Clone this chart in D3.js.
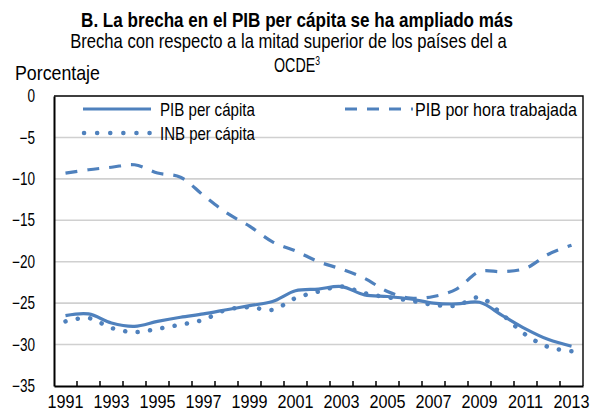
<!DOCTYPE html>
<html><head><meta charset="utf-8">
<script src="https://cdn.jsdelivr.net/npm/d3@7"></script>
<style>
body{margin:0;background:#fff}
svg{display:block}
text{font-family:"Liberation Sans",Arial,sans-serif;fill:#000}
</style>
</head><body><svg id="c" width="598" height="414"></svg>
<script>
const years = d3.range(1991, 2014).map(String);
const pibPerCapita = [-26.5, -26.3, -27.4, -27.8, -27.2, -26.7, -26.3, -25.8, -25.3, -24.8, -23.5, -23.3, -23.0, -24.0, -24.2, -24.5, -25.0, -25.1, -24.9, -26.5, -28.1, -29.4, -30.2];
const inbPerCapita = [-27.2, -26.8, -28.0, -28.5, -28.1, -27.6, -27.0, -25.8, -25.5, -25.8, -24.4, -23.6, -23.0, -23.8, -24.3, -24.7, -25.2, -25.3, -24.3, -26.4, -28.8, -30.3, -30.8];
const pibPorHora = [-9.3, -8.9, -8.6, -8.3, -9.3, -9.8, -12.0, -14.1, -15.7, -17.6, -18.7, -20.0, -20.9, -22.0, -23.6, -24.4, -24.2, -23.3, -21.2, -21.2, -20.8, -19.1, -18.0];
const yTicks = [0, -5, -10, -15, -20, -25, -30, -35];
const xTickLabels = years.filter((d, i) => i % 2 === 0);
const seriesNames = ["PIB per cápita", "PIB por hora trabajada", "INB per cápita"];

const blue = "#4f81bd";
const svg = d3.select("#c");
const L = 54, R = 583, T = 96, B = 386;
const x = d3.scaleBand().domain(years).range([L, R]);
const y = d3.scaleLinear().domain([-35, 0]).range([B, T]);
const cx = d => x(d) + x.bandwidth() / 2;

// horizontal condensing helper (emulates a narrow face)
function squeeze(node, s) {
  const ax = +node.getAttribute("x") || 0;
  node.setAttribute("transform", `translate(${ax * (1 - s)},0) scale(${s},1)`);
}
function fit(sel, w) { sel.each(function () { squeeze(this, w / this.getComputedTextLength()); }); }
function fitGroup(sel, refNode, refW) {
  const s = refW / refNode.getComputedTextLength();
  sel.each(function () { squeeze(this, s); });
}

// titles
fit(svg.append("text").attr("x", 297).attr("y", 27).attr("text-anchor", "middle")
  .style("font-weight", "bold").style("font-size", "19.5px")
  .text("B. La brecha en el PIB per cápita se ha ampliado más"), 432);
fit(svg.append("text").attr("x", 288.5).attr("y", 48).attr("text-anchor", "middle")
  .style("font-size", "20px")
  .text("Brecha con respecto a la mitad superior de los países del a"), 437);
const oc = svg.append("text").attr("x", 297).attr("y", 72).attr("text-anchor", "middle")
  .style("font-size", "20px");
oc.append("tspan").text("OCDE");
oc.append("tspan").attr("dy", -7).style("font-size", "12px").text("3");
fit(oc, 46);
fit(svg.append("text").attr("x", 15).attr("y", 80).style("font-size", "20px").text("Porcentaje"), 85);

// gridlines
svg.append("g").selectAll("line").data(yTicks.filter(v => v !== 0 && v !== -35)).join("line")
  .attr("x1", L).attr("x2", R).attr("y1", d => y(d)).attr("y2", d => y(d))
  .attr("stroke", "#d0d0d0").attr("stroke-width", 1.6);

// plot border top/right
svg.append("path").attr("d", `M${L},${T}H${R}V${B}`).attr("fill", "none")
  .attr("stroke", "#000").attr("stroke-width", 1.4);

// y axis
const ya = svg.append("g").attr("transform", `translate(${L},0)`)
  .call(d3.axisLeft(y).tickValues(yTicks).tickSize(0).tickPadding(19).tickFormat(d3.format("d")));
ya.select(".domain").attr("stroke", "#000").attr("stroke-width", 2);
const yt = ya.selectAll("text").style("font-size", "17.5px").style("font-family", null).attr("fill", "#000");
fitGroup(yt, yt.filter(d => d === -35).node(), 23);

// x axis
const xa = svg.append("g").attr("transform", `translate(0,${B})`)
  .call(d3.axisBottom(x).tickValues(xTickLabels).tickSize(0).tickPadding(10));
xa.select(".domain").attr("stroke", "#000").attr("stroke-width", 2);
const xt = xa.selectAll("text").style("font-size", "17.5px").style("font-family", null).attr("fill", "#000");
fitGroup(xt, xt.node(), 36);
// category boundary tick marks (inside)
svg.append("g").selectAll("line").data(years.slice(1)).join("line")
  .attr("x1", d => x(d)).attr("x2", d => x(d)).attr("y1", B).attr("y2", B - 5)
  .attr("stroke", "#000").attr("stroke-width", 1.5);

// lines
const line = d3.line().x((d, i) => cx(years[i])).y(d => y(d)).curve(d3.curveCatmullRom.alpha(0.5));
svg.append("path").datum(pibPorHora).attr("d", line).attr("fill", "none")
  .attr("stroke", blue).attr("stroke-width", 3.2).attr("stroke-dasharray", "12,10");
svg.append("path").datum(inbPerCapita).attr("d", line).attr("fill", "none")
  .attr("stroke", blue).attr("stroke-width", 4.5).attr("stroke-linecap", "round").attr("stroke-dasharray", "0.1,12.4");
svg.append("path").datum(pibPerCapita).attr("d", line).attr("fill", "none")
  .attr("stroke", blue).attr("stroke-width", 3.2);

// legend
const lg = svg.append("g");
const legendItems = [
  {name: seriesNames[0], x: 83, y: 109, dash: null, w: 3.2, cap: "butt", tx: 160, tw: 95},
  {name: seriesNames[1], x: 345, y: 109, dash: "12,10", w: 3.2, cap: "butt", tx: 415, tw: 162},
  {name: seriesNames[2], x: 84, y: 133, dash: "0.1,13", w: 4.5, cap: "round", tx: 160, tw: 95}
];
legendItems.forEach(it => {
  lg.append("line").attr("x1", it.x).attr("x2", it.x + 68).attr("y1", it.y).attr("y2", it.y)
    .attr("stroke", blue).attr("stroke-width", it.w).attr("stroke-linecap", it.cap)
    .attr("stroke-dasharray", it.dash);
  fit(lg.append("text").attr("x", it.tx).attr("y", it.y + 7)
    .style("font-size", "17.5px").text(it.name), it.tw);
});
</script>
</body></html>
